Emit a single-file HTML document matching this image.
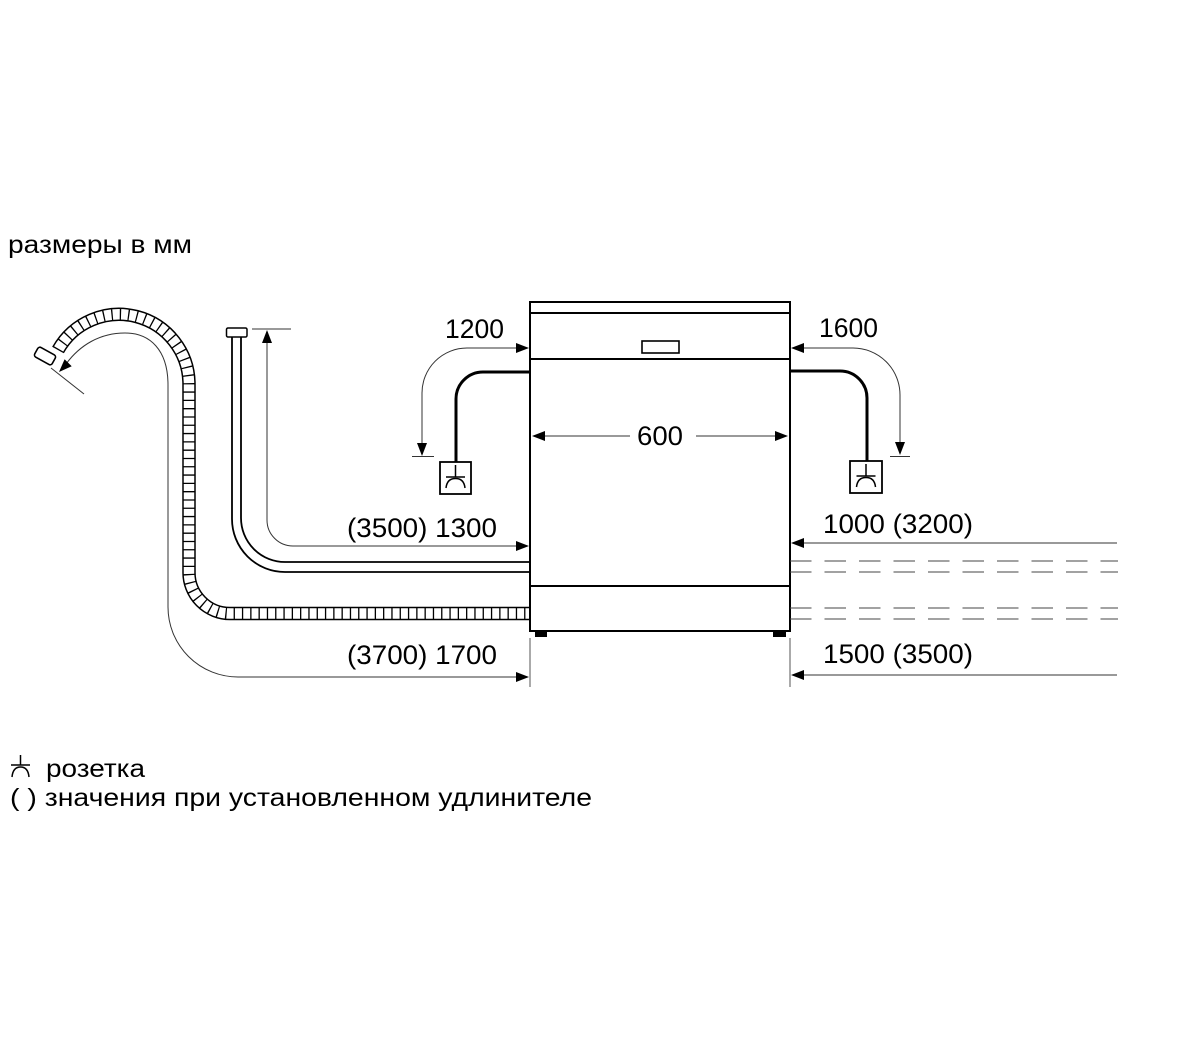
<!DOCTYPE html>
<html>
<head>
<meta charset="utf-8">
<style>
  html, body { margin:0; padding:0; background:#fff; }
  svg { display:block; }
  text { font-family: "Liberation Sans", "Noto Sans CJK SC", sans-serif; fill:#000; }
</style>
</head>
<body>
<svg width="1200" height="1050" viewBox="0 0 1200 1050" xmlns="http://www.w3.org/2000/svg">
  <rect x="0" y="0" width="1200" height="1050" fill="#fff"/>

  <!-- Title -->
  <text x="8" y="253" font-size="25" textLength="184" lengthAdjust="spacingAndGlyphs">размеры в мм</text>

  <!-- Drain hose (corrugated) -->
  <g fill="none">
    <path d="M 58,350 A 70 70 0 0 1 189,384 L 189,572 A 41 41 0 0 0 230,613.5 L 530,613.5" stroke="#000" stroke-width="13.5"/>
    <path d="M 58,350 A 70 70 0 0 1 189,384 L 189,572 A 41 41 0 0 0 230,613.5 L 530,613.5" stroke="#fff" stroke-width="10.5"/>
    <path d="M 58,350 A 70 70 0 0 1 189,384 L 189,572 A 41 41 0 0 0 230,613.5 L 530,613.5" stroke="#000" stroke-width="11" stroke-dasharray="1.3 7"/>
  </g>
  <!-- hose end cap -->
  <rect x="35" y="350.5" width="20" height="11" rx="2.5" fill="#fff" stroke="#000" stroke-width="1.6" transform="rotate(29 45 356)"/>

  <!-- 3700/1700 dimension curve -->
  <path d="M 516,677 L 238,677 A 70 70 0 0 1 168,607 L 168,385 C 168,350 150,333 125,333 C 100,333 80,345 66,364" fill="none" stroke="#333" stroke-width="1"/>
  <polygon points="59,372 71.7,366.3 64.6,359.3" fill="#000"/>
  <line x1="51" y1="368" x2="84" y2="394" stroke="#333" stroke-width="1"/>
  <polygon points="529,677 516,672 516,682" fill="#000"/>

  <!-- Inlet hose -->
  <path d="M 232,337 L 232,519 A 53 53 0 0 0 285,572 L 530,572" fill="none" stroke="#000" stroke-width="1.8"/>
  <path d="M 241,337 L 241,518 A 44 44 0 0 0 285,562 L 530,562" fill="none" stroke="#000" stroke-width="1.8"/>
  <rect x="226.5" y="328" width="20.5" height="9" rx="1.5" fill="#fff" stroke="#000" stroke-width="1.5"/>

  <!-- 1300 dimension -->
  <line x1="252" y1="329" x2="291" y2="329" stroke="#333" stroke-width="1"/>
  <path d="M 516,546 L 293,546 A 26 26 0 0 1 267,520 L 267,340" fill="none" stroke="#333" stroke-width="1"/>
  <polygon points="267,330 262,343 272,343" fill="#000"/>
  <polygon points="529,546 516,541 516,551" fill="#000"/>

  <!-- Dishwasher body -->
  <g fill="none" stroke="#000" stroke-width="2">
    <rect x="530" y="302" width="260" height="329"/>
    <line x1="530" y1="313" x2="790" y2="313"/>
    <line x1="530" y1="359" x2="790" y2="359"/>
    <line x1="530" y1="586" x2="790" y2="586"/>
  </g>
  <rect x="642" y="341" width="37" height="12" fill="#fff" stroke="#000" stroke-width="1.6"/>
  <rect x="535" y="631" width="12" height="6" fill="#000"/>
  <rect x="773" y="631" width="13" height="6" fill="#000"/>

  <!-- 600 dimension -->
  <line x1="540" y1="436" x2="630" y2="436" stroke="#333" stroke-width="1"/>
  <line x1="696" y1="436" x2="780" y2="436" stroke="#333" stroke-width="1"/>
  <polygon points="532,436 545,431 545,441" fill="#000"/>
  <polygon points="788,436 775,431 775,441" fill="#000"/>
  <text x="637" y="445" font-size="27" textLength="46" lengthAdjust="spacingAndGlyphs">600</text>

  <!-- Power cords -->
  <path d="M 530,372 L 483,372 A 27 27 0 0 0 456,399 L 456,462" fill="none" stroke="#000" stroke-width="3"/>
  <path d="M 790,371 L 840,371 A 27 27 0 0 1 867,398 L 867,461" fill="none" stroke="#000" stroke-width="3"/>

  <!-- Sockets -->
  <rect x="440" y="462" width="31" height="32" fill="#fff" stroke="#000" stroke-width="1.8"/>
  <g fill="none" stroke="#000" stroke-width="1.5">
    <line x1="455.5" y1="465" x2="455.5" y2="477"/>
    <line x1="446" y1="477" x2="465" y2="477"/>
    <path d="M 446,488 Q 447,478.5 455.5,478.5 Q 464,478.5 465,488"/>
  </g>
  <rect x="850" y="461" width="32" height="32" fill="#fff" stroke="#000" stroke-width="1.8"/>
  <g fill="none" stroke="#000" stroke-width="1.5">
    <line x1="866" y1="464" x2="866" y2="476"/>
    <line x1="856.5" y1="476" x2="875.5" y2="476"/>
    <path d="M 856.5,487 Q 857.5,477.5 866,477.5 Q 874.5,477.5 875.5,487"/>
  </g>

  <!-- 1200 dimension -->
  <path d="M 518,348 L 467,348 A 45 45 0 0 0 422,393 L 422,446" fill="none" stroke="#333" stroke-width="1"/>
  <polygon points="529,348 516,343 516,353" fill="#000"/>
  <polygon points="422,456 417,443 427,443" fill="#000"/>
  <line x1="412" y1="456.5" x2="434" y2="456.5" stroke="#333" stroke-width="1"/>
  <text x="445" y="338" font-size="27" textLength="59" lengthAdjust="spacingAndGlyphs">1200</text>

  <!-- 1600 dimension -->
  <path d="M 802,348 L 853,348 A 47 47 0 0 1 900,395 L 900,446" fill="none" stroke="#333" stroke-width="1"/>
  <polygon points="791,348 804,343 804,353" fill="#000"/>
  <polygon points="900,455 895,442 905,442" fill="#000"/>
  <line x1="890" y1="456.5" x2="910" y2="456.5" stroke="#333" stroke-width="1"/>
  <text x="819" y="337" font-size="27" textLength="59" lengthAdjust="spacingAndGlyphs">1600</text>

  <!-- Right dimensions -->
  <line x1="802" y1="543" x2="1117" y2="543" stroke="#333" stroke-width="1"/>
  <polygon points="791,543 804,538 804,548" fill="#000"/>
  <text x="823" y="533" font-size="27" textLength="150" lengthAdjust="spacingAndGlyphs">1000 (3200)</text>

  <line x1="802" y1="675" x2="1117" y2="675" stroke="#333" stroke-width="1"/>
  <polygon points="791,675 804,670 804,680" fill="#000"/>
  <text x="823" y="663" font-size="27" textLength="150" lengthAdjust="spacingAndGlyphs">1500 (3500)</text>

  <!-- dashed continuation lines -->
  <g stroke="#444" stroke-width="1" stroke-dasharray="21.5 13">
    <line x1="790" y1="561" x2="1118" y2="561"/>
    <line x1="790" y1="572" x2="1118" y2="572"/>
    <line x1="790" y1="608" x2="1118" y2="608"/>
    <line x1="790" y1="619" x2="1118" y2="619"/>
  </g>

  <!-- extension lines -->
  <line x1="530" y1="638" x2="530" y2="687" stroke="#555" stroke-width="1"/>
  <line x1="790" y1="638" x2="790" y2="687" stroke="#555" stroke-width="1"/>

  <!-- Left dimension texts -->
  <text x="347" y="537" font-size="27" textLength="150" lengthAdjust="spacingAndGlyphs">(3500) 1300</text>
  <text x="347" y="664" font-size="27" textLength="150" lengthAdjust="spacingAndGlyphs">(3700) 1700</text>

  <!-- Legend -->
  <g fill="none" stroke="#000" stroke-width="1.5">
    <line x1="20.5" y1="755" x2="20.5" y2="765"/>
    <line x1="11" y1="765" x2="30" y2="765"/>
    <path d="M 12,777 Q 13,767 20.5,767 Q 28,767 29,777"/>
  </g>
  <text x="46" y="777" font-size="25" textLength="99" lengthAdjust="spacingAndGlyphs">розетка</text>
  <text x="10" y="806" font-size="25" textLength="582" lengthAdjust="spacingAndGlyphs">( ) значения при установленном удлинителе</text>
</svg>
</body>
</html>
